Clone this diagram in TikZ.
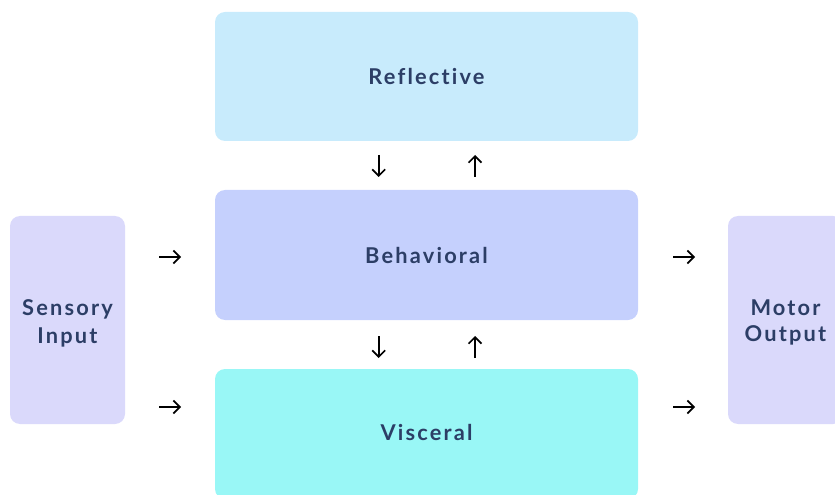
\documentclass[tikz,border=0pt]{standalone}
\usepackage{fontspec}
\setmainfont{Lato}[Ligatures={NoCommon}]
\usepackage{tikz}
\usetikzlibrary{arrows.meta, positioning}
\definecolor{reflcol}{HTML}{C8EBFC}
\definecolor{behavcol}{HTML}{C5D0FD}
\definecolor{viscol}{HTML}{99F7F6}
\definecolor{iocol}{HTML}{DAD9FB}
\definecolor{labelcol}{HTML}{2C3E66}
\tikzset{>={Straight Barb[length=4.6pt,width=9.2pt,line width=1.2pt]}}
\tikzset{
  level/.style={rectangle, rounded corners=0.25cm, draw=none, align=center,
    text=labelcol, font=\addfontfeatures{LetterSpace=10}\bfseries\fontsize{15.5}{21}\selectfont},
  gaparrow/.style={->, line width=1.2pt, black}
}

\begin{document}
\begin{tikzpicture}
            \useasboundingbox (0,0) rectangle (20.875,12.35);
            \clip (0,0) rectangle (20.875,12.35);
            \node[level, fill=reflcol, minimum width=10.575cm, minimum height=3.225cm] (R) at (10.6625,10.4375) {Reflective};
            \node[level, fill=behavcol, minimum width=10.575cm, minimum height=3.25cm] (B) at (10.6625,5.975) {Behavioral};
            \node[level, fill=viscol, minimum width=10.575cm, minimum height=3.25cm] (V) at (10.6625,1.5) {\raisebox{0.05cm}[\height][\depth]{Visceral}};
            \node[level, fill=iocol, minimum width=2.875cm, minimum height=5.2cm] (S) at (1.6875,4.35) {\raisebox{-0.08cm}[\height][\depth]{\shortstack{Sensory\\[0.12cm]Input}}};
            \node[level, fill=iocol, minimum width=2.875cm, minimum height=5.2cm] (M) at (19.6375,4.35) {\raisebox{-0.05cm}[\height][\depth]{\shortstack{Motor\\[0.14cm]Output}}};

            % small arrows in the gaps
            \coordinate (SB0) at (3.975,5.925);  \coordinate (SB1) at (4.525,5.925);
            \coordinate (SV0) at (3.975,2.175);  \coordinate (SV1) at (4.525,2.175);
            \coordinate (BM0) at (16.825,5.925); \coordinate (BM1) at (17.375,5.925);
            \coordinate (VM0) at (16.825,2.175); \coordinate (VM1) at (17.375,2.175);
            \coordinate (RB0) at (9.467,8.475);  \coordinate (RB1) at (9.467,7.925);
            \coordinate (BR0) at (11.875,7.925); \coordinate (BR1) at (11.875,8.475);
            \coordinate (BV0) at (9.467,3.95);   \coordinate (BV1) at (9.467,3.40);
            \coordinate (VB0) at (11.875,3.40);  \coordinate (VB1) at (11.875,3.95);
            \draw [gaparrow] (SB0)--(SB1);
            \draw [gaparrow] (SV0)--(SV1);
            \draw [gaparrow] (BM0)--(BM1);
            \draw [gaparrow] (VM0)--(VM1);
            \draw [gaparrow] (RB0)--(RB1);
            \draw [gaparrow] (BR0)--(BR1);
            \draw [gaparrow] (BV0)--(BV1);
            \draw [gaparrow] (VB0)--(VB1);
\end{tikzpicture}
\end{document}
